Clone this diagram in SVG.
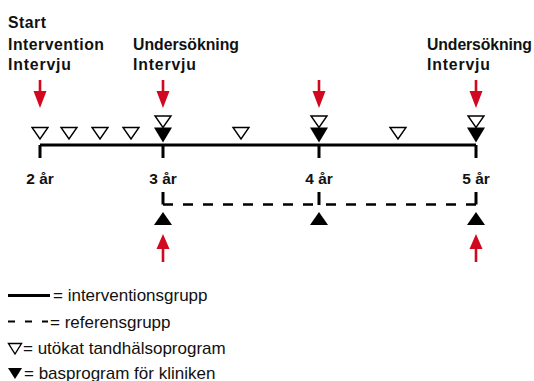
<svg xmlns="http://www.w3.org/2000/svg" width="534" height="381" viewBox="0 0 534 381">
<style>
.hd{font-family:"Liberation Sans",Arial,sans-serif;font-weight:bold;font-size:15.8px;fill:#111}
.yr{font-family:"Liberation Sans",Arial,sans-serif;font-weight:bold;font-size:15.5px;fill:#111;text-anchor:middle}
.lg{font-family:"Liberation Sans",Arial,sans-serif;font-size:17px;fill:#111}
.ln{stroke:#000;stroke-width:3;fill:none}
.dl{stroke:#000;stroke-width:2.6;fill:none;stroke-dasharray:10 10}
.ot{fill:#fff;stroke:#000;stroke-width:1.4}
.ft{fill:#000}
.ra{fill:#d1081f}
</style>
<defs>
<polygon id="open" class="ot" points="-8,0 8,0 0,11.5"/>
<polygon id="fill" class="ft" points="-9,0 9,0 0,15"/>
<polygon id="up" class="ft" points="0,0 9,13 -9,13"/>
<path id="rdown" class="ra" d="M-1.3,0 H1.3 V11 H6.5 L0,28 L-6.5,11 H-1.3 Z"/>
<path id="rup" class="ra" d="M-1.3,28 H1.3 V15 H6.5 L0,0 L-6.5,15 H-1.3 Z"/>
</defs>
<g id="labels">
<text class="hd" x="8" y="28" textLength="38" lengthAdjust="spacing">Start</text>
<text class="hd" x="8" y="49.5" textLength="96" lengthAdjust="spacing">Intervention</text>
<text class="hd" x="8" y="70" textLength="63" lengthAdjust="spacing">Intervju</text>
<text class="hd" x="133" y="49.5" textLength="106" lengthAdjust="spacing">Undersökning</text>
<text class="hd" x="133" y="70" textLength="63" lengthAdjust="spacing">Intervju</text>
<text class="hd" x="427" y="49.5" textLength="105" lengthAdjust="spacing">Undersökning</text>
<text class="hd" x="427" y="70" textLength="63" lengthAdjust="spacing">Intervju</text>
</g>
<g id="connectors">
<path class="ln" d="M40,145 H476 M40,145 V158 M163,145 V158 M319,145 V158 M476,145 V158"/>
<path class="ln" d="M163,192 V204.5 M319,192 V205 M476,192 V204.5" stroke-width="2.6"/>
<path class="dl" d="M163,204.5 H319"/>
<path class="dl" d="M476,204.5 H319"/>
</g>
<g id="arrows-top">
<use href="#rdown" x="40" y="80"/>
<use href="#rdown" x="163" y="80"/>
<use href="#rdown" x="319" y="80"/>
<use href="#rdown" x="476" y="80"/>
</g>
<g id="arrows-bottom">
<use href="#rup" x="163" y="234"/>
<use href="#rup" x="476" y="234"/>
</g>
<g id="open-triangles">
<use href="#open" x="40" y="127.5"/>
<use href="#open" x="69" y="127.5"/>
<use href="#open" x="100" y="127.5"/>
<use href="#open" x="131" y="127.5"/>
<use href="#open" x="241" y="127.5"/>
<use href="#open" x="398" y="127.5"/>
<use href="#open" x="163" y="116"/>
<use href="#open" x="319" y="116"/>
<use href="#open" x="476" y="116"/>
</g>
<g id="filled-triangles">
<use href="#fill" x="163" y="127.5"/>
<use href="#fill" x="319" y="127.5"/>
<use href="#fill" x="476" y="127.5"/>
<use href="#up" x="163" y="212"/>
<use href="#up" x="319" y="212"/>
<use href="#up" x="476" y="212"/>
</g>
<g id="years">
<text class="yr" x="40" y="183.5">2 år</text>
<text class="yr" x="163" y="183.5">3 år</text>
<text class="yr" x="319" y="183.5">4 år</text>
<text class="yr" x="476" y="183.5">5 år</text>
</g>
<g id="legend">
<path class="ln" d="M8,295.5 H50" stroke-width="2.2"/>
<text class="lg" x="53" y="301">= interventionsgrupp</text>
<path d="M8,321.5 H15 M25,321.5 H32 M42,321.5 H48" stroke="#000" stroke-width="2.2"/>
<text class="lg" x="50" y="327.5">= referensgrupp</text>
<polygon class="ot" points="8.5,343.5 21.5,343.5 15,354"/>
<text class="lg" x="23" y="354">= utökat tandhälsoprogram</text>
<polygon class="ft" points="8,368 22,368 15,379"/>
<text class="lg" x="24" y="378.5">= basprogram för kliniken</text>
</g>
</svg>
